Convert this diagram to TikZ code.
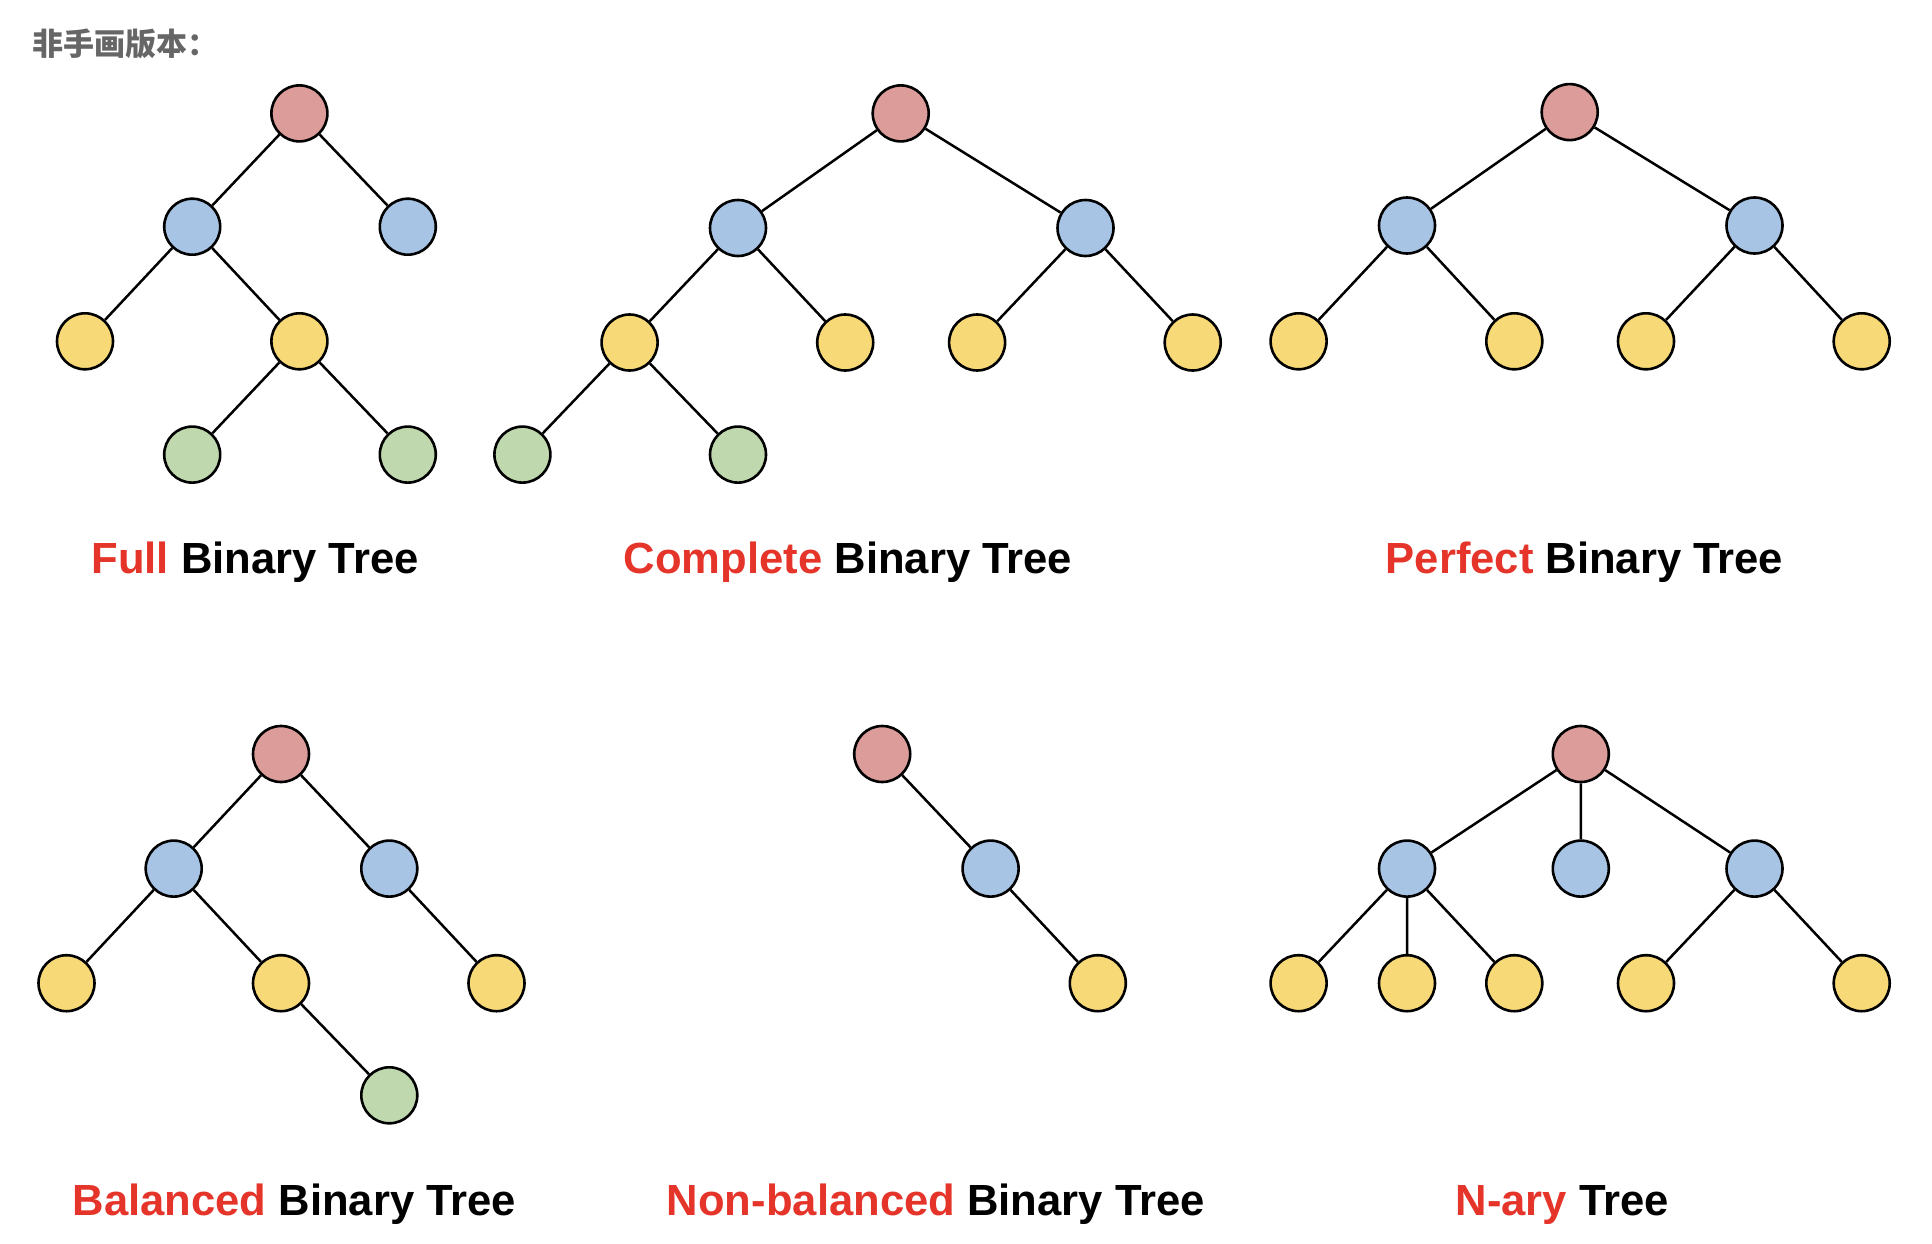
\documentclass[tikz,border=0pt]{standalone}
\usepackage{fontspec}
\setmainfont{Liberation Sans}
\newfontfamily\cjk{Noto Sans CJK SC}
\definecolor{cpink}{HTML}{DB9C9A}
\definecolor{cblue}{HTML}{A8C4E5}
\definecolor{cyel}{HTML}{F7D977}
\definecolor{cgreen}{HTML}{BFD8AD}
\definecolor{tred}{HTML}{E5352A}
\definecolor{tgray}{HTML}{666666}
\tikzset{
  tn/.style={circle,draw=black,line width=2.6pt,minimum size=56pt,inner sep=0pt},
  pk/.style={tn,fill=cpink},
  bl/.style={tn,fill=cblue},
  yl/.style={tn,fill=cyel},
  gr/.style={tn,fill=cgreen},
  edge/.style={line width=2.5pt,black},
  lbl/.style={anchor=base,font=\fontsize{43.6}{50}\selectfont\bfseries,inner sep=0pt}
}
\begin{document}
\begin{tikzpicture}[x=1pt,y=-1pt]
\useasboundingbox (0,0) rectangle (1932,1244);
\node[anchor=west,text=tgray,font=\cjk\fontsize{31}{36}\selectfont\bfseries,inner sep=0pt] (hdr) at (32,44) {非手画版本：};

% Full binary tree
\node[pk] (a1) at (299.4,113.4) {};
\node[bl] (a2) at (192.2,226.7) {};
\node[bl] (a3) at (407.8,226.7) {};
\node[yl] (a4) at (85,341.3) {};
\node[yl] (a5) at (299.4,341.3) {};
\node[gr] (a6) at (192.2,454.6) {};
\node[gr] (a7) at (407.8,454.6) {};
\draw[edge] (a1)--(a2) (a1)--(a3) (a2)--(a4) (a2)--(a5) (a5)--(a6) (a5)--(a7);
\node[lbl] (la) at (255,573.5) {\textcolor{tred}{Full} Binary Tree};

% Complete binary tree
\node[pk] (b1) at (900.7,113.4) {};
\node[bl] (b2) at (738,228) {};
\node[bl] (b3) at (1085.5,228) {};
\node[yl] (b4) at (629.6,342.5) {};
\node[yl] (b5) at (845.2,342.5) {};
\node[yl] (b6) at (977.1,342.5) {};
\node[yl] (b7) at (1192.7,342.5) {};
\node[gr] (b8) at (522.4,454.6) {};
\node[gr] (b9) at (738,454.6) {};
\draw[edge] (b1)--(b2) (b1)--(b3) (b2)--(b4) (b2)--(b5) (b3)--(b6) (b3)--(b7) (b4)--(b8) (b4)--(b9);
\node[lbl] (lb) at (848,573.5) {\textcolor{tred}{Complete} Binary Tree};

% Perfect binary tree
\node[pk] (c1) at (1569.7,112.1) {};
\node[bl] (c2) at (1407,225.5) {};
\node[bl] (c3) at (1754.5,225.5) {};
\node[yl] (c4) at (1298.6,341.3) {};
\node[yl] (c5) at (1514.3,341.3) {};
\node[yl] (c6) at (1646,341.3) {};
\node[yl] (c7) at (1861.7,341.3) {};
\draw[edge] (c1)--(c2) (c1)--(c3) (c2)--(c4) (c2)--(c5) (c3)--(c6) (c3)--(c7);
\node[lbl] (lc) at (1584.5,573.5) {\textcolor{tred}{Perfect} Binary Tree};

% Balanced binary tree
\node[pk] (d1) at (281,754) {};
\node[bl] (d2) at (173.7,868.6) {};
\node[bl] (d3) at (389.3,868.6) {};
\node[yl] (d4) at (66.5,983.2) {};
\node[yl] (d5) at (281,983.2) {};
\node[yl] (d6) at (496.5,983.2) {};
\node[gr] (d7) at (389.3,1095.3) {};
\draw[edge] (d1)--(d2) (d1)--(d3) (d2)--(d4) (d2)--(d5) (d3)--(d6) (d5)--(d7);
\node[lbl] (ld) at (294.5,1215) {\textcolor{tred}{Balanced} Binary Tree};

% Non-balanced binary tree
\node[pk] (e1) at (882.2,754) {};
\node[bl] (e2) at (990.6,868.6) {};
\node[yl] (e3) at (1097.8,983.2) {};
\draw[edge] (e1)--(e2) (e2)--(e3);
\node[lbl] (le) at (935.8,1215) {\textcolor{tred}{Non-balanced} Binary Tree};

% N-ary tree
\node[pk] (f1) at (1580.8,754) {};
\node[bl] (f2) at (1407,868.6) {};
\node[bl] (f3) at (1580.8,868.6) {};
\node[bl] (f4) at (1754.5,868.6) {};
\node[yl] (f5) at (1298.6,983.2) {};
\node[yl] (f6) at (1407,983.2) {};
\node[yl] (f7) at (1514.3,983.2) {};
\node[yl] (f8) at (1646,983.2) {};
\node[yl] (f9) at (1861.7,983.2) {};
\draw[edge] (f1)--(f2) (f1)--(f3) (f1)--(f4) (f2)--(f5) (f2)--(f6) (f2)--(f7) (f4)--(f8) (f4)--(f9);
\node[lbl] (lf) at (1562.3,1215) {\textcolor{tred}{N-ary} Tree};
\end{tikzpicture}
\end{document}
